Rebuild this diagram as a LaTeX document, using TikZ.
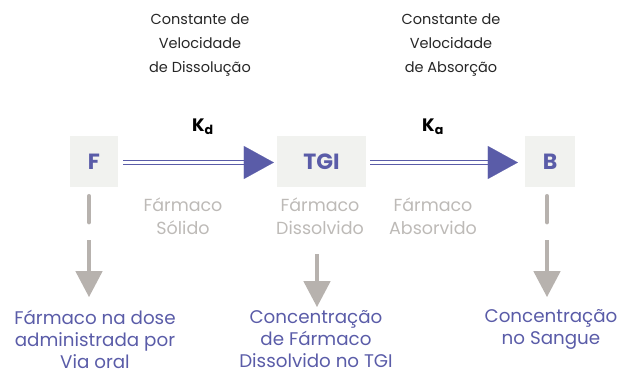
\documentclass[tikz,border=0pt]{standalone}
\usepackage{fontspec}
\setmainfont{Poppins}
\usetikzlibrary{arrows.meta,calc}
\definecolor{pblue}{HTML}{5A5CA8}
\definecolor{boxg}{HTML}{F1F2EF}
\definecolor{lgray}{HTML}{BDBAB7}
\definecolor{agray}{HTML}{B7B2AE}
\begin{document}
\begin{tikzpicture}[x=1pt,y=-1pt,
  stage/.style={fill=boxg, draw=none, minimum height=51pt, inner sep=0pt, text=pblue, font=\fontsize{22}{24}\selectfont\bfseries},
  toplbl/.style={align=center, font=\fontsize{14.5}{24}\selectfont, text=black!85},
  graylbl/.style={align=center, font=\fontsize{17.5}{23}\selectfont, text=lgray},
  botlbl/.style={align=center, font=\fontsize{18.3}{22}\selectfont, text=pblue, inner sep=1pt},
  klbl/.style={font=\fontsize{18}{20}\selectfont\bfseries},
  dblarrow/.style={draw=pblue, double=white, double distance=2.2pt, line width=1.1pt},
  headarrow/.style={draw=pblue, line width=0.1pt, -{Triangle[length=30pt,width=33pt]}, fill=pblue},
  gstem/.style={draw=agray, line width=4.5pt, line cap=round},
  garrow/.style={draw=agray, line width=4.5pt, -{Triangle[length=26pt,width=26pt]}, fill=agray}
]
\useasboundingbox (0,0) rectangle (621,374);
\node[stage, minimum width=48pt] (F) at (94,161.5) {F};
\node[stage, minimum width=89pt] (TGI) at (321.5,161.5) {TGI};
\node[stage, minimum width=50pt] (B) at (550,161.5) {B};

% horizontal arrows
\draw[dblarrow] ($(F.east)+(5,1)$) -- ($(TGI.west)+(-26,1)$);
\draw[headarrow] ($(TGI.west)+(-30,1)$) -- ($(TGI.west)+(-3,1)$);
\draw[dblarrow] ($(TGI.east)+(4,1)$) -- ($(B.west)+(-26,1)$);
\draw[headarrow] ($(B.west)+(-30,1)$) -- ($(B.west)+(-7,1)$);

\node[klbl] (kd) at (203,127) {K\textsubscript{d}};
\node[klbl] (ka) at (433,127) {K\textsubscript{a}};

\node[toplbl] (c1) at (200,45) {Constante de\\Velocidade\\de Dissolução};
\node[toplbl] (c2) at (451,45) {Constante de\\Velocidade\\de Absorção};

\node[graylbl] (g1) at (183,216) {Fármaco\\Sólido};
\node[graylbl] (g2) at (320,216) {Fármaco\\Dissolvido};
\node[graylbl] (g3) at (433,216) {Fármaco\\Absorvido};

% vertical arrows
\coordinate (fa) at ($(F.south)+(-5,9)$);
\coordinate (fb) at ($(F.south)+(-5,35)$);
\coordinate (fc) at ($(F.south)+(-5,53)$);
\coordinate (fd) at ($(F.south)+(-5,110)$);
\draw[gstem] (fa) -- (fb);
\draw[garrow] (fc) -- (fd);

\coordinate (ta) at ($(TGI.south)+(-4.5,67)$);
\coordinate (tb) at ($(TGI.south)+(-4.5,120)$);
\draw[garrow] (ta) -- (tb);

\coordinate (ba) at ($(B.south)+(-3,9)$);
\coordinate (bb) at ($(B.south)+(-3,35)$);
\coordinate (bc) at ($(B.south)+(-3,53)$);
\coordinate (bd) at ($(B.south)+(-3,110)$);
\draw[gstem] (ba) -- (bb);
\draw[garrow] (bc) -- (bd);

\node[botlbl] (b1) at (95,339) {Fármaco na dose\\administrada por\\Via oral};
\node[botlbl] (b2) at (316,339) {Concentração\\de Fármaco\\Dissolvido no TGI};
\node[botlbl, anchor=north] (b3) at (551,308) {Concentração\\no Sangue};
\end{tikzpicture}
\end{document}
